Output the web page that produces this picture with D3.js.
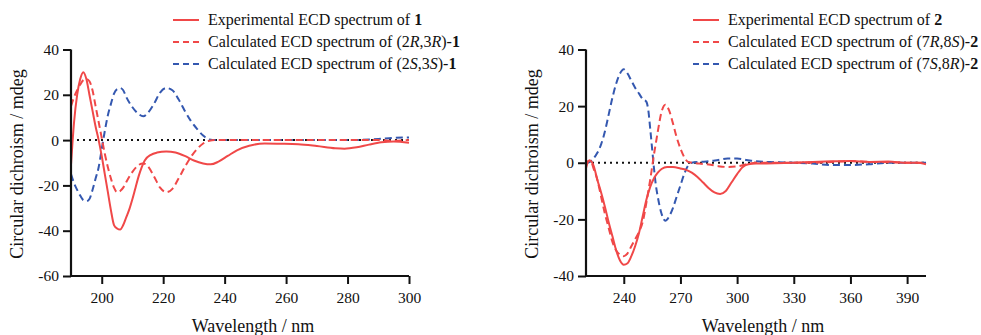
<!DOCTYPE html>
<html>
<head>
<meta charset="utf-8">
<script src="https://d3js.org/d3.v7.min.js"></script>
<style>
body { margin: 0; background: #fff; }
</style>
</head>
<body>
<div id="main"></div>
<script>
// ---- data ----
// compound 1
var nm1Exp  = [190,191,192,193,194,195,196,197,198,199,200,201,202,203,204,205,206,207,208,209,210,211,212,213,214,216,218,221,224,227,230,233,235.5,238,241,244,248,253,258,264,270,276,279,283,287,291,295,300];
var cd1Exp  = [-11,8,20,27,30,27,20,13,6,0,-7,-15,-23,-31,-37.5,-39,-39.5,-37.5,-34,-30.5,-26,-21,-16,-12,-9,-6.5,-5.5,-5,-5.5,-7,-9,-10.3,-10.7,-9.5,-7,-4.5,-2.5,-1.5,-1.6,-1.8,-2.6,-3.6,-3.8,-3.2,-2,-1,-0.6,-1.2];
var nm1Calc = [190,191,192,193,194,195,196,197,198,199,200,201,202,203,204,205,206,207,208,210,212,213.5,215,217,219,221,223,225,227,229,231,233,235,237,245,260,280,290,295,300];
var cd1RR   = [15,19,22,24.5,26.5,27,26,22,15,8,1,-6,-12,-17,-21,-23,-22.5,-21,-18.5,-14,-11,-10.3,-11.5,-16,-21,-23,-21.5,-17,-12,-7.5,-4,-1.5,-0.3,0,0,0,0,0,-0.3,0];
var cd1SS   = [-15,-19,-22,-24.5,-26.5,-27,-26,-22,-17,-12,-4,4,11,16,20.5,22.5,23,22,19,14.5,11.5,10.5,12,16,21,23,22,18,13,8.5,5,2,0.3,0,0,0,0,0.5,1,1.2];

// compound 2
var nm2Exp  = [220,221,222,223,224,226,228,230,232,234,236,238,240,242,244,246,248,250,252,254,256,258,260,263,266,270,273,276,279,282,285,288,291,294,297,300,303,306,310,320,330,340,350,360,370,380,390,395,400];
var cd2Exp  = [-2,0.3,0.8,0.3,-1,-6,-10.5,-15.5,-21,-26,-31,-34.5,-36,-35.5,-33,-29.5,-25,-19,-13,-8.5,-5.5,-3.5,-2.2,-1.5,-1.5,-2,-2.5,-3.5,-5,-7,-9,-10.5,-11,-10,-7,-4,-1.5,-0.5,-0.3,-0.2,0,0.3,0.5,0.6,0.3,0.4,0,0,-0.5];
var nm2Calc = [220,221,222,223,224,226,228,230,232,234,236,238,240,242,244,246,248,250,252,253,254,255,256,257,258,260,262,264,266,268,270,272,274,276,280,285,290,295,300,305,310,320,330,340,350,360,370,380,390,400];
var cd2RS   = [-1,0.5,0.8,0,-2,-6,-12,-18,-23,-28,-31,-32.5,-33,-32,-29.5,-27,-24.5,-21,-14,-10,-6,-1.5,3,7,11,18,20.5,18.5,14,9,5,2,0.3,0,-0.3,-0.6,-1.2,-1.5,-1.3,-0.5,0,0,0,0,0.3,0.6,0.3,0.2,0,0];
var cd2SR   = [-0.5,0,0.3,0.8,1.5,3.5,6.5,11,17,23,28,31.5,33,31.5,29,26.5,24.5,22.5,21.5,18.5,12,5,-2,-8,-12,-18,-20.5,-19,-16,-12,-8,-4,-1,0,0.3,0.5,1,1.5,1.5,1,0.5,0.2,0,-0.3,-0.8,-0.8,-0.5,0,0,0];

var ticks1X = [200,220,240,260,280,300];
var ticks1Y = [-60,-40,-20,0,20,40];
var ticks2X = [240,270,300,330,360,390];
var ticks2Y = [-40,-20,0,20,40];

var red = "#f04848", blue = "#3458b0";
var serif = "'Liberation Serif'";

var svg = d3.select("#main").append("svg")
    .attr("width", 981)
    .attr("height", 335)
    .style("font-family", serif);

function zip(xs, ys) {
  return xs.map(function(x, i) { return [x, ys[i]]; });
}

function panel(opt) {
  var x = d3.scaleLinear().domain(opt.xDomain).range([opt.left, opt.right]);
  var y = d3.scaleLinear().domain(opt.yDomain).range([opt.bottom, opt.top]);

  var line = d3.line()
      .x(function(d) { return x(d[0]); })
      .y(function(d) { return y(d[1]); })
      .curve(d3.curveMonotoneX);

  // dotted zero line
  svg.append("line")
      .attr("x1", opt.left).attr("x2", opt.right)
      .attr("y1", y(0)).attr("y2", y(0))
      .attr("stroke", "#111").attr("stroke-width", 2)
      .attr("stroke-dasharray", "2,4");

  opt.series.forEach(function(s) {
    svg.append("path")
        .datum(zip(s.x, s.y))
        .attr("d", line)
        .attr("fill", "none")
        .attr("stroke", s.color)
        .attr("stroke-width", 2)
        .attr("stroke-dasharray", s.dash ? "7,4" : null);
  });

  var fmt = function(d) { return String(d); };   // plain hyphen minus like the figure
  var xa = svg.append("g")
      .attr("transform", "translate(0," + opt.bottom + ")")
      .call(d3.axisBottom(x).tickValues(opt.xTicks).tickSize(8).tickPadding(8).tickFormat(fmt));
  var ya = svg.append("g")
      .attr("transform", "translate(" + opt.left + ",0)")
      .call(d3.axisLeft(y).tickValues(opt.yTicks).tickSize(8).tickPadding(4).tickFormat(fmt));
  [xa, ya].forEach(function(a) {
    a.attr("font-family", null).attr("font-size", null);
    a.select(".domain").attr("stroke", "#111").attr("stroke-width", 2.2);
    a.selectAll(".tick line").attr("stroke", "#111").attr("stroke-width", 2);
    a.selectAll(".tick text").style("font-size", "15.5px")
      .style("font-family", serif).attr("fill", "#111");
  });
  // domain path without outer ticks
  xa.select(".domain").attr("d", "M" + opt.left + ",0H" + opt.right);
  ya.select(".domain").attr("d", "M0," + opt.bottom + "V" + opt.top);

  svg.append("text")
      .attr("x", opt.xLabelX).attr("y", 332)
      .attr("text-anchor", "middle")
      .style("font-family", serif)
      .style("font-size", "18px")
      .attr("fill", "#111")
      .text("Wavelength / nm");
  svg.append("text")
      .attr("transform", "translate(" + opt.yLabelX + ",164) rotate(-90)")
      .attr("text-anchor", "middle")
      .style("font-family", serif)
      .style("font-size", "18px")
      .attr("fill", "#111")
      .text("Circular dichroism / mdeg");

  // legend
  opt.legend.forEach(function(l, i) {
    var ly = 20 + i * 22;
    svg.append("line")
        .attr("x1", opt.legX).attr("x2", opt.legX + 26)
        .attr("y1", ly).attr("y2", ly)
        .attr("stroke", l.color).attr("stroke-width", 2)
        .attr("stroke-dasharray", l.dash ? "6,4" : null);
    var t = svg.append("text")
        .attr("x", opt.legX + 35).attr("y", ly + 5)
        .style("font-family", serif)
        .style("font-size", "16px")
        .attr("fill", "#111");
    l.parts.forEach(function(p) {
      t.append("tspan")
        .style("font-weight", p[1] == "b" ? "bold" : null)
        .style("font-style", p[1] == "i" ? "italic" : null)
        .text(p[0]);
    });
  });
}

panel({
  left: 71, right: 409, top: 49.5, bottom: 276,
  xDomain: [190, 300], yDomain: [-60, 40],
  xTicks: ticks1X, yTicks: ticks1Y,
  xLabelX: 253, yLabelX: 23, legX: 173,
  series: [
    {x: nm1Calc, y: cd1SS, color: blue, dash: true},
    {x: nm1Calc, y: cd1RR, color: red, dash: true},
    {x: nm1Exp, y: cd1Exp, color: red, dash: false}
  ],
  legend: [
    {color: red, dash: false, parts: [["Experimental ECD spectrum of ", ""], ["1", "b"]]},
    {color: red, dash: true, parts: [["Calculated ECD spectrum of (2", ""], ["R", "i"], [",3", ""], ["R", "i"], [")-", ""], ["1", "b"]]},
    {color: blue, dash: true, parts: [["Calculated ECD spectrum of (2", ""], ["S", "i"], [",3", ""], ["S", "i"], [")-", ""], ["1", "b"]]}
  ]
});

panel({
  left: 586, right: 926, top: 49.5, bottom: 276,
  xDomain: [220, 400], yDomain: [-40, 40],
  xTicks: ticks2X, yTicks: ticks2Y,
  xLabelX: 763, yLabelX: 538, legX: 693,
  series: [
    {x: nm2Calc, y: cd2SR, color: blue, dash: true},
    {x: nm2Calc, y: cd2RS, color: red, dash: true},
    {x: nm2Exp, y: cd2Exp, color: red, dash: false}
  ],
  legend: [
    {color: red, dash: false, parts: [["Experimental ECD spectrum of ", ""], ["2", "b"]]},
    {color: red, dash: true, parts: [["Calculated ECD spectrum of (7", ""], ["R", "i"], [",8", ""], ["S", "i"], [")-", ""], ["2", "b"]]},
    {color: blue, dash: true, parts: [["Calculated ECD spectrum of (7", ""], ["S", "i"], [",8", ""], ["R", "i"], [")-", ""], ["2", "b"]]}
  ]
});
</script>
</body>
</html>
